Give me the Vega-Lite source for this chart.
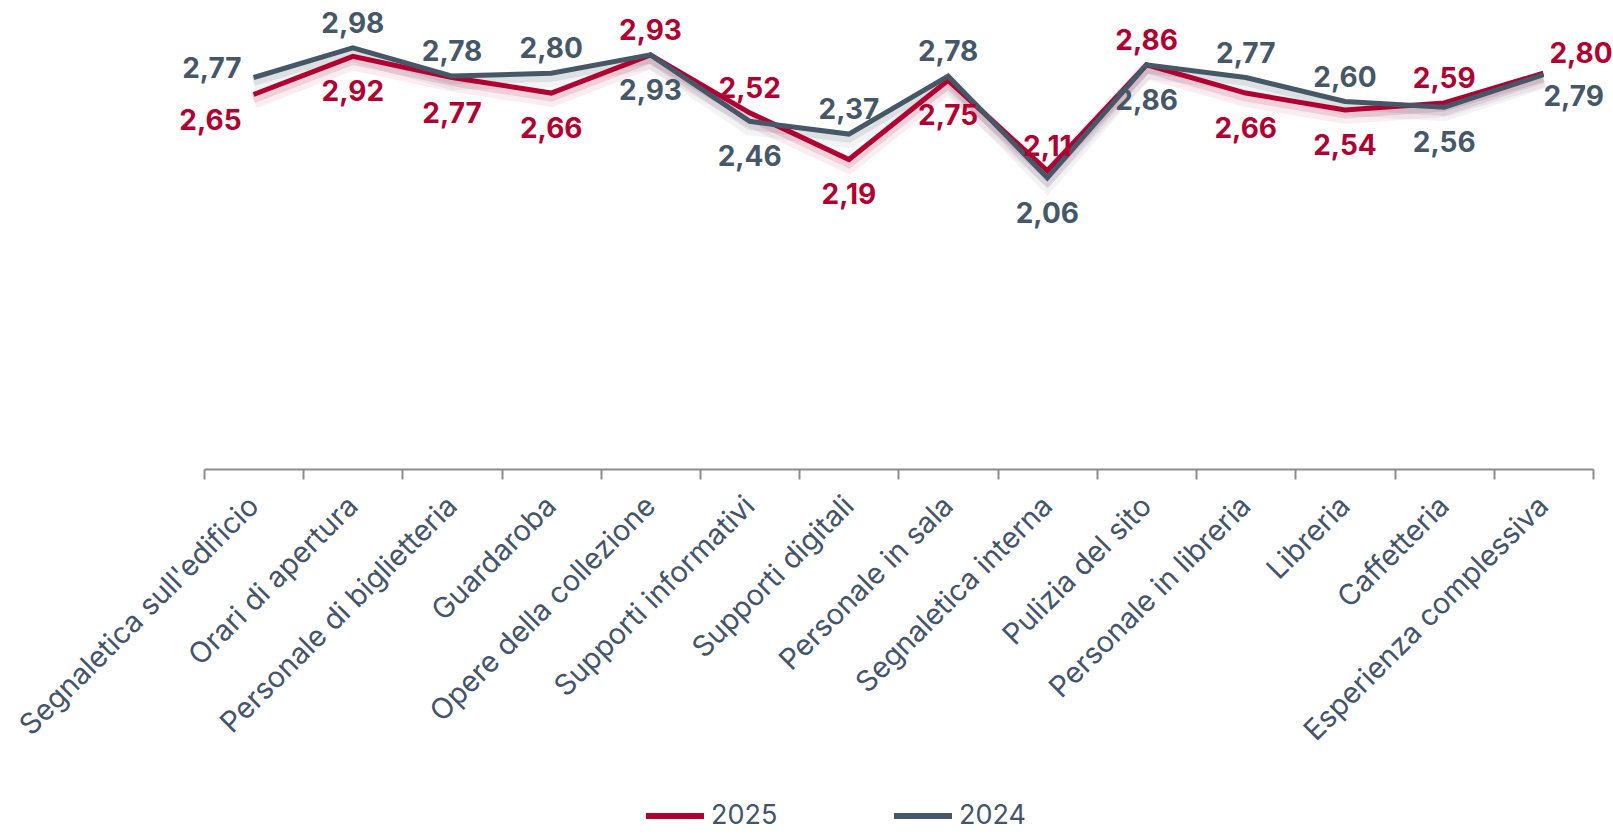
{
  "$schema": "https://vega.github.io/schema/vega-lite/v6.json",
  "width": 1389,
  "height": 424,
  "autosize": "none",
  "padding": {"left": 204, "top": 45, "right": 20, "bottom": 365},
  "background": "white",
  "config": {
    "view": {"stroke": null},
    "font": "Inter",
    "locale": {"number": {"decimal": ",", "thousands": ".", "grouping": [3], "currency": ["€", ""]}}
  },
  "data": {
    "values": [
      {"cat": "Segnaletica sull'edificio", "series": "2025", "value": 2.65},
      {"cat": "Orari di apertura", "series": "2025", "value": 2.92},
      {"cat": "Personale di biglietteria", "series": "2025", "value": 2.77},
      {"cat": "Guardaroba", "series": "2025", "value": 2.66},
      {"cat": "Opere della collezione", "series": "2025", "value": 2.93},
      {"cat": "Supporti informativi", "series": "2025", "value": 2.52},
      {"cat": "Supporti digitali", "series": "2025", "value": 2.19},
      {"cat": "Personale in sala", "series": "2025", "value": 2.75},
      {"cat": "Segnaletica interna", "series": "2025", "value": 2.11},
      {"cat": "Pulizia del sito", "series": "2025", "value": 2.86},
      {"cat": "Personale in libreria", "series": "2025", "value": 2.66},
      {"cat": "Libreria", "series": "2025", "value": 2.54},
      {"cat": "Caffetteria", "series": "2025", "value": 2.59},
      {"cat": "Esperienza complessiva", "series": "2025", "value": 2.80},
      {"cat": "Segnaletica sull'edificio", "series": "2024", "value": 2.77},
      {"cat": "Orari di apertura", "series": "2024", "value": 2.98},
      {"cat": "Personale di biglietteria", "series": "2024", "value": 2.78},
      {"cat": "Guardaroba", "series": "2024", "value": 2.80},
      {"cat": "Opere della collezione", "series": "2024", "value": 2.93},
      {"cat": "Supporti informativi", "series": "2024", "value": 2.46},
      {"cat": "Supporti digitali", "series": "2024", "value": 2.37},
      {"cat": "Personale in sala", "series": "2024", "value": 2.78},
      {"cat": "Segnaletica interna", "series": "2024", "value": 2.06},
      {"cat": "Pulizia del sito", "series": "2024", "value": 2.86},
      {"cat": "Personale in libreria", "series": "2024", "value": 2.77},
      {"cat": "Libreria", "series": "2024", "value": 2.60},
      {"cat": "Caffetteria", "series": "2024", "value": 2.56},
      {"cat": "Esperienza complessiva", "series": "2024", "value": 2.79}
    ]
  },
  "transform": [
    {"joinaggregate": [{"op": "max", "field": "value", "as": "vmax"}, {"op": "min", "field": "value", "as": "vmin"}], "groupby": ["cat"]},
    {"calculate": "datum.vmax == datum.vmin ? (datum.series == '2025' ? 'top' : 'bottom') : (datum.value == datum.vmax ? 'top' : 'bottom')", "as": "pos"}
  ],
  "encoding": {
    "x": {
      "field": "cat",
      "type": "nominal",
      "sort": null,
      "bandPosition": 0.5,
      "scale": {"type": "band", "paddingInner": 0, "paddingOuter": 0},
      "axis": {
        "title": null,
        "labelAngle": -45,
        "labelAlign": "right",
        "labelBaseline": "middle",
        "labelFont": "Inter",
        "labelFontSize": 29,
        "labelColor": "#44546A",
        "labelPadding": 22,
        "labelLimit": 600,
        "labelOverlap": false,
        "labelFlush": false,
        "tickBand": "extent",
        "tickSize": 10,
        "tickWidth": 2,
        "tickColor": "#8C8C8C",
        "domainColor": "#8C8C8C",
        "domainWidth": 2,
        "grid": false
      }
    },
    "y": {"field": "value", "type": "quantitative", "scale": {"domain": [0, 3]}, "axis": null},
    "color": {
      "field": "series",
      "type": "nominal",
      "scale": {"domain": ["2025", "2024"], "range": ["#B00032", "#465767"]},
      "legend": {
        "title": null,
        "orient": "none",
        "direction": "horizontal",
        "legendX": 439,
        "legendY": 739,
        "padding": 0,
        "symbolType": "stroke",
        "symbolSize": 3364,
        "symbolStrokeWidth": 6,
        "symbolOpacity": 1,
        "labelFont": "Inter",
        "labelFontSize": 27,
        "labelColor": "#44546A",
        "labelOffset": 4,
        "columnPadding": 104
      }
    }
  },
  "layer": [
    {"mark": {"type": "line", "strokeWidth": 16, "opacity": 0.07, "yOffset": 6}},
    {"mark": {"type": "line", "strokeWidth": 9, "opacity": 0.12, "yOffset": 4}},
    {"mark": {"type": "line", "strokeWidth": 5, "strokeJoin": "miter"}},
    {
      "transform": [{"filter": {"and": [{"not": {"field": "cat", "oneOf": ["Segnaletica sull'edificio", "Esperienza complessiva"]}}, {"field": "pos", "equal": "top"}]}}],
      "mark": {"type": "text", "font": "Inter", "fontSize": 28, "fontWeight": "bold", "baseline": "alphabetic", "dy": -15},
      "encoding": {"text": {"field": "value", "type": "quantitative", "format": ".2f"}}
    },
    {
      "transform": [{"filter": {"and": [{"not": {"field": "cat", "oneOf": ["Segnaletica sull'edificio", "Esperienza complessiva"]}}, {"field": "pos", "equal": "bottom"}]}}],
      "mark": {"type": "text", "font": "Inter", "fontSize": 28, "fontWeight": "bold", "baseline": "top", "dy": 23},
      "encoding": {"text": {"field": "value", "type": "quantitative", "format": ".2f"}}
    },
    {
      "transform": [{"filter": {"and": [{"field": "cat", "equal": "Segnaletica sull'edificio"}, {"field": "pos", "equal": "top"}]}}],
      "mark": {"type": "text", "font": "Inter", "fontSize": 28, "fontWeight": "bold", "align": "right", "baseline": "middle", "dx": -12, "dy": -8},
      "encoding": {"text": {"field": "value", "type": "quantitative", "format": ".2f"}}
    },
    {
      "transform": [{"filter": {"and": [{"field": "cat", "equal": "Segnaletica sull'edificio"}, {"field": "pos", "equal": "bottom"}]}}],
      "mark": {"type": "text", "font": "Inter", "fontSize": 28, "fontWeight": "bold", "align": "right", "baseline": "top", "dx": -12, "dy": 14},
      "encoding": {"text": {"field": "value", "type": "quantitative", "format": ".2f"}}
    },
    {
      "transform": [{"filter": {"and": [{"field": "cat", "equal": "Esperienza complessiva"}, {"field": "pos", "equal": "top"}]}}],
      "mark": {"type": "text", "font": "Inter", "fontSize": 28, "fontWeight": "bold", "align": "left", "baseline": "alphabetic", "dx": 6, "dy": -10},
      "encoding": {"text": {"field": "value", "type": "quantitative", "format": ".2f"}}
    },
    {
      "transform": [{"filter": {"and": [{"field": "cat", "equal": "Esperienza complessiva"}, {"field": "pos", "equal": "bottom"}]}}],
      "mark": {"type": "text", "font": "Inter", "fontSize": 28, "fontWeight": "bold", "align": "left", "baseline": "top", "dx": 0, "dy": 9},
      "encoding": {"text": {"field": "value", "type": "quantitative", "format": ".2f"}}
    }
  ]
}
